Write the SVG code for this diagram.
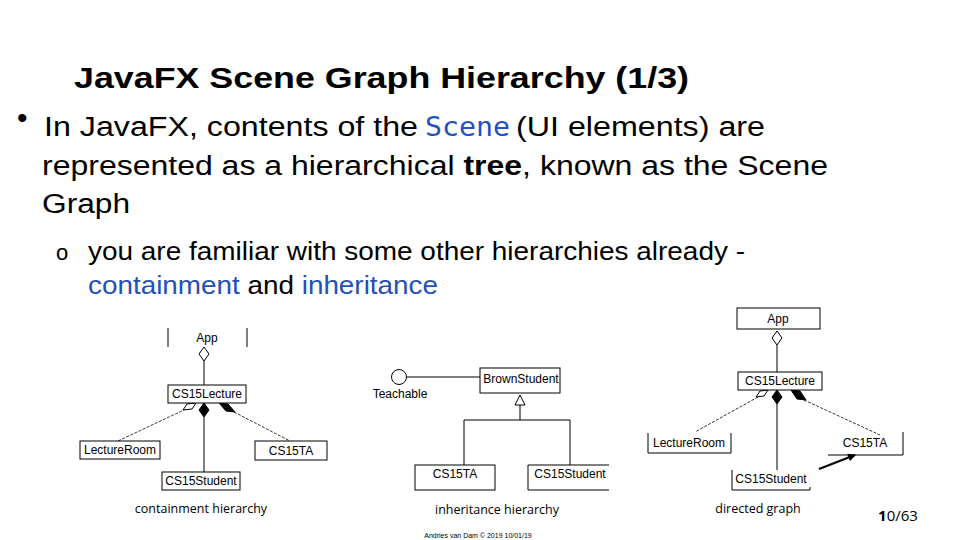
<svg xmlns="http://www.w3.org/2000/svg" width="960" height="540" viewBox="0 0 960 540">
<style>
.t{font-family:"Liberation Sans",Arial,sans-serif;fill:#000}
.blue{fill:#2450b8}
.mono{font-family:"DejaVu Sans Mono","Liberation Mono",monospace;fill:#2450c0}
.box{fill:#fff;stroke:#000;stroke-width:1}
.edge{fill:none;stroke:#000;stroke-width:1}
.dash{fill:none;stroke:#000;stroke-width:0.8;stroke-dasharray:3 1.5}
.lbl{font-family:"Liberation Sans",Arial,sans-serif;font-size:12px;fill:#000;text-anchor:middle}
.cap{font-family:"Open Sans","Noto Sans",sans-serif;font-size:12.5px;fill:#000;text-anchor:middle}
.odia{fill:#fff;stroke:#000;stroke-width:1}
.fdia{fill:#000;stroke:#000;stroke-width:1}
</style>
<defs>
<marker id="ah" markerWidth="8" markerHeight="8" refX="7" refY="4" orient="auto" markerUnits="userSpaceOnUse">
<path d="M0,0 L8,4 L0,8 Z" fill="#000"/>
</marker>
</defs>
<rect width="960" height="540" fill="#fff"/>

<!-- Title and bullets -->
<text class="t" x="74" y="88" font-size="30" font-weight="bold" textLength="615" lengthAdjust="spacingAndGlyphs">JavaFX Scene Graph Hierarchy (1/3)</text>
<text class="t" x="17" y="128" font-size="30">•</text>
<text class="t" x="44" y="136" font-size="27" textLength="374" lengthAdjust="spacingAndGlyphs">In JavaFX, contents of the</text>
<text class="mono" x="425" y="136" font-size="26" textLength="85" lengthAdjust="spacingAndGlyphs">Scene</text>
<text class="t" x="516" y="136" font-size="27" textLength="249" lengthAdjust="spacingAndGlyphs">(UI elements) are</text>
<text class="t" x="42" y="175" font-size="27" textLength="786" lengthAdjust="spacingAndGlyphs">represented as a hierarchical <tspan font-weight="bold">tree</tspan>, known as the Scene</text>
<text class="t" x="42" y="213" font-size="27" textLength="88" lengthAdjust="spacingAndGlyphs">Graph</text>
<text class="t" x="56" y="260" font-size="22">o</text>
<text class="t" x="88" y="260" font-size="25" textLength="657" lengthAdjust="spacingAndGlyphs">you are familiar with some other hierarchies already -</text>
<text class="t" x="88" y="294" font-size="25" textLength="350" lengthAdjust="spacingAndGlyphs"><tspan class="blue">containment</tspan> and <tspan class="blue">inheritance</tspan></text>

<!-- Connectors -->
<g id="connectors">
  <!-- containment -->
  <line class="edge" x1="204" y1="361" x2="204" y2="385"/>
  <line class="edge" x1="204" y1="417" x2="204" y2="472"/>
  <line class="dash" x1="186" y1="409" x2="118" y2="441"/>
  <line class="dash" x1="234" y1="412" x2="290" y2="441"/>
  <polygon class="odia" points="204,347 209,354 204,361 199,354"/>
  <polygon class="fdia" points="204,403 209,410 204,417 199,410"/>
  <polygon class="odia" points="196,403 192,409 183,410 187,404"/>
  <polygon class="fdia" points="219,403 228,404 235,412 226,411"/>
  <!-- inheritance -->
  <line class="edge" x1="407" y1="377" x2="480" y2="377"/>
  <polygon class="odia" points="520,395 525,405 515,405"/>
  <polyline class="edge" points="520,405 520,420"/>
  <polyline class="edge" points="464,465 464,420 570,420 570,465"/>
  <!-- directed graph -->
  <line class="edge" x1="777" y1="345" x2="777" y2="372"/>
  <line class="edge" x1="777" y1="404" x2="777" y2="470"/>
  <line class="dash" x1="758" y1="397" x2="695" y2="432"/>
  <line class="dash" x1="804" y1="400" x2="880" y2="435"/>
  <polygon class="odia" points="777,331 782,338 777,345 772,338"/>
  <polygon class="fdia" points="777,390 782,397 777,404 772,397"/>
  <polygon class="odia" points="768,390 764,396 756,397 760,391"/>
  <polygon class="fdia" points="791,390 800,391 806,400 797,399"/>
  <line x1="819" y1="469" x2="855" y2="455" stroke="#000" stroke-width="2.2" marker-end="url(#ah)"/>
</g>

<!-- Containment hierarchy nodes -->
<g id="c-app">
  <line class="edge" x1="168" y1="328" x2="168" y2="347"/>
  <line class="edge" x1="247" y1="328" x2="247" y2="347"/>
  <text class="lbl" x="207" y="342">App</text>
</g>
<g id="c-lecture">
  <rect class="box" x="168" y="385" width="78" height="18"/>
  <text class="lbl" x="207" y="398">CS15Lecture</text>
</g>
<g id="c-room">
  <rect class="box" x="80" y="441" width="80" height="18"/>
  <text class="lbl" x="120" y="454">LectureRoom</text>
</g>
<g id="c-ta">
  <rect class="box" x="255" y="441" width="72" height="19"/>
  <text class="lbl" x="291" y="455">CS15TA</text>
</g>
<g id="c-student">
  <rect class="box" x="162" y="472" width="78" height="18"/>
  <text class="lbl" x="201" y="485">CS15Student</text>
</g>

<!-- Inheritance hierarchy nodes -->
<g id="i-teachable">
  <circle class="odia" cx="399" cy="377" r="7.5"/>
  <text class="lbl" x="400" y="398" font-size="10.5">Teachable</text>
</g>
<g id="i-brown">
  <rect class="box" x="480" y="368" width="80" height="25"/>
  <text class="lbl" x="521" y="383" font-size="11.5">BrownStudent</text>
</g>
<g id="i-ta">
  <rect class="box" x="415" y="465" width="80" height="25"/>
  <text class="lbl" x="455" y="478" font-size="13">CS15TA</text>
</g>
<g id="i-student">
  <path class="edge" d="M609,465 H528 V490 H609"/>
  <text class="lbl" x="570" y="478" font-size="13">CS15Student</text>
</g>

<!-- Directed graph nodes -->
<g id="d-app">
  <rect class="box" x="737" y="308" width="83" height="21"/>
  <text class="lbl" x="778" y="323">App</text>
</g>
<g id="d-lecture">
  <rect class="box" x="738" y="372" width="84" height="18"/>
  <text class="lbl" x="780" y="385">CS15Lecture</text>
</g>
<g id="d-room">
  <path class="edge" d="M648,433 V453 H731 V433"/>
  <text class="lbl" x="689" y="447">LectureRoom</text>
</g>
<g id="d-ta">
  <path class="edge" d="M828,455 H903 V432"/>
  <text class="lbl" x="865" y="447">CS15TA</text>
</g>
<g id="d-student">
  <path class="edge" d="M732,470 V490 H810 V487"/>
  <text class="lbl" x="771" y="483">CS15Student</text>
</g>

<!-- Captions -->
<text class="cap" x="201" y="513">containment hierarchy</text>
<text class="cap" x="497" y="514">inheritance hierarchy</text>
<text class="cap" x="758" y="513">directed graph</text>
<text x="478" y="538" font-family="Liberation Sans,Arial,sans-serif" font-size="7" text-anchor="middle" fill="#000">Andries van Dam © 2019 10/01/19</text>
<text x="898" y="521" font-family="Open Sans,Noto Sans,sans-serif" font-size="15" text-anchor="middle" fill="#000"><tspan font-weight="bold">1</tspan>0/63</text>
</svg>
